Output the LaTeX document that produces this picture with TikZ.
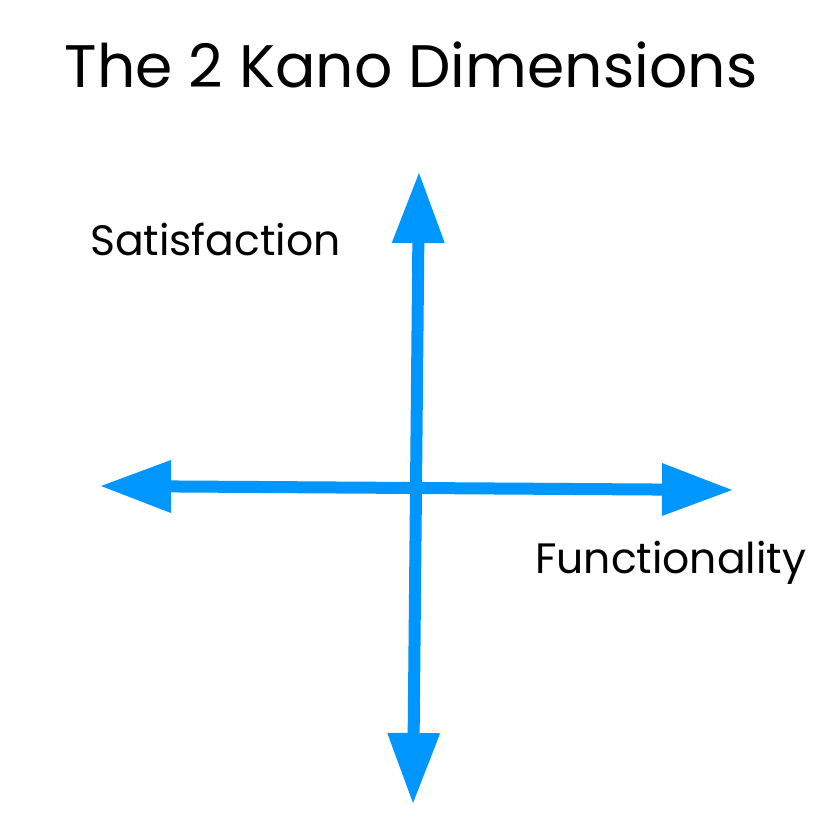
\documentclass[tikz,border=0pt]{standalone}
\usepackage{fontspec}
\setmainfont{Poppins}[Ligatures=NoCommon]
\usetikzlibrary{arrows.meta}

\definecolor{kanoblue}{RGB}{0,150,255}

\begin{document}
\begin{tikzpicture}[x=1pt, y=-1pt,
	kanoaxis/.style={kanoblue, line width=12pt,
		{Triangle[length=70pt, width=53pt, line width=0pt]}-{Triangle[length=70pt, width=53pt, line width=0pt]}},
	kanolabel/.style={inner sep=0pt, anchor=base west, font=\fontsize{42.5}{44}\selectfont}]
	\useasboundingbox (0,0) rectangle (833,833);
	
	\node [inner sep=0pt, anchor=base, font=\fontsize{60}{63}\selectfont] (title) at (411,87) {The 2 Kano Dimensions};
	
	\coordinate (left) at (101,486);
	\coordinate (right) at (732,490);
	\coordinate (bottom) at (413,803);
	\coordinate (top) at (419,173);
	
	\draw [kanoaxis] (left) -- (right);
	\draw [kanoaxis] (bottom) -- (top);
	
	\node [kanolabel] (sat) at (90,255) {Satisfaction};
	\node [kanolabel] (func) at (535,573) {Functionality};
	\end{tikzpicture}
\end{document}
